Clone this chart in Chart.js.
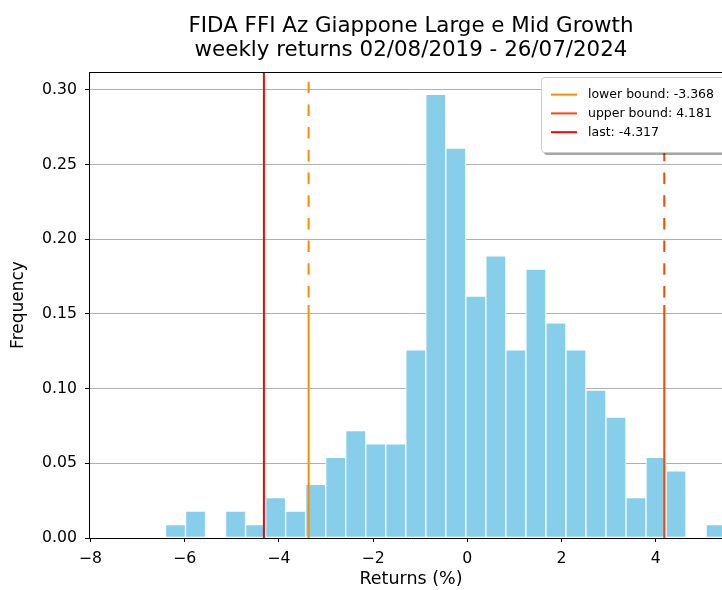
<!DOCTYPE html>
<html>
<head>
<meta charset="utf-8">
<script src="https://cdn.jsdelivr.net/npm/chart.js@4.4.4/dist/chart.umd.min.js"></script>
<style>
  html, body { margin: 0; padding: 0; background: #fff; }
  #wrap { width: 722px; height: 590px; overflow: hidden; position: relative; }
  #chart { display: block; }
</style>
</head>
<body>
<div id="wrap"><canvas id="chart" width="745" height="590"></canvas></div>
<script>
// histogram bins (centre of each bin, returns in %) and density
const binCenters = [-6.194, -5.769, -5.344, -4.919, -4.494, -4.069, -3.644, -3.219, -2.794, -2.369,
                    -1.944, -1.519, -1.094, -0.669, -0.244, 0.181, 0.606, 1.031, 1.456, 1.881,
                    2.306, 2.731, 3.156, 3.581, 4.006, 4.431, 4.856, 5.281]
const frequency = [0.009, 0.018, 0, 0.018, 0.009, 0.027, 0.018, 0.036, 0.054, 0.072,
                   0.063, 0.063, 0.126, 0.297, 0.261, 0.162, 0.189, 0.126, 0.180, 0.144,
                   0.126, 0.099, 0.081, 0.027, 0.054, 0.045, 0, 0.009]

const lineLabels = ["lower bound", "upper bound", "last"]
const lineValues = [-3.368, 4.181, -4.317]
const lineColors = ["#ff8c00", "#ff4500", "#ff0000"]

const xTicks = [-8, -6, -4, -2, 0, 2, 4]
const yTicks = [0, 0.05, 0.10, 0.15, 0.20, 0.25, 0.30]
const xRange = [-8.03, 5.64]
const yRange = [0, 0.312]

const titleLines = ["FIDA FFI Az Giappone Large e Mid Growth", "weekly returns 02/08/2019 - 26/07/2024"]

Chart.defaults.font.family = "'DejaVu Sans', sans-serif"
Chart.defaults.color = "#000"

const fmtX = v => (v < 0 ? "\u2212" + Math.abs(v) : String(v))

// bounds: dashed on the upper half, solid on the lower half
const boundSets = []
for (let i = 0; i < 2; i++) {
    boundSets.push({
        type: "line",
        data: [{ x: lineValues[i], y: yRange[1] }, { x: lineValues[i], y: yRange[1] / 2 }],
        borderColor: lineColors[i],
        borderWidth: 2,
        borderDash: [11.5, 11.2],
        borderDashOffset: 13,
        pointRadius: 0,
        fill: false,
        order: 1
    })
    boundSets.push({
        type: "line",
        data: [{ x: lineValues[i], y: yRange[1] / 2 }, { x: lineValues[i], y: 0 }],
        borderColor: lineColors[i],
        borderWidth: 2,
        pointRadius: 0,
        fill: false,
        order: 1
    })
}
boundSets.push({
    type: "line",
    data: [{ x: lineValues[2], y: yRange[1] }, { x: lineValues[2], y: 0 }],
    borderColor: lineColors[2],
    borderWidth: 2,
    pointRadius: 0,
    fill: false,
    order: 0
})

const framePlugin = {
    id: "frame",
    afterDraw(chart) {
        const { ctx, chartArea: a } = chart
        ctx.save()
        ctx.strokeStyle = "#000"
        ctx.lineWidth = 1
        ctx.beginPath()
        ctx.moveTo(a.left, Math.round(a.top) + 0.5)
        ctx.lineTo(a.right, Math.round(a.top) + 0.5)
        ctx.moveTo(Math.round(a.right) + 0.5, a.top)
        ctx.lineTo(Math.round(a.right) + 0.5, a.bottom)
        ctx.stroke()
        ctx.restore()
    }
}

const boxLegend = {
    id: "boxLegend",
    afterDraw(chart) {
        const { ctx, chartArea: a } = chart
        const right = a.right - 6, left = right - 186, top = a.top + 5, h = 75
        const r = 3
        const box = (x, y, w, hh) => {
            ctx.beginPath()
            ctx.roundRect(x, y, w, hh, r)
        }
        ctx.save()
        ctx.fillStyle = "rgba(0,0,0,0.35)"
        box(left + 3, top + 3, right - left, h)
        ctx.fill()
        ctx.fillStyle = "#fff"
        ctx.strokeStyle = "#cccccc"
        ctx.lineWidth = 1
        box(left + 0.5, top + 0.5, right - left, h)
        ctx.fill()
        ctx.stroke()
        ctx.font = "12.5px 'DejaVu Sans'"
        ctx.textBaseline = "middle"
        ctx.fillStyle = "#000"
        for (let i = 0; i < lineLabels.length; i++) {
            const y = top + 17.6 + i * 18.8
            ctx.strokeStyle = lineColors[i]
            ctx.lineWidth = 2
            ctx.beginPath()
            ctx.moveTo(left + 10, y)
            ctx.lineTo(left + 36, y)
            ctx.stroke()
            ctx.fillText(lineLabels[i] + ": " + lineValues[i].toFixed(3), left + 47, y + 0.5)
        }
        ctx.restore()
    }
}

new Chart(document.getElementById("chart"), {
    type: "bar",
    data: {
        datasets: [
            ...boundSets,
            {
                type: "bar",
                data: binCenters.map((c, i) => ({ x: c, y: frequency[i] })),
                backgroundColor: "#87ceeb",
                borderColor: "#ffffff",
                borderWidth: 1,
                borderSkipped: false,
                barPercentage: 1,
                categoryPercentage: 1,
                order: 10
            }
        ]
    },
    options: {
        responsive: false,
        animation: false,
        devicePixelRatio: 1,
        layout: { padding: { left: 0, right: 12, top: 0, bottom: 0 } },
        plugins: {
            legend: { display: false },
            tooltip: { enabled: false },
            title: {
                display: true,
                text: titleLines,
                fullSize: false,
                color: "#000",
                font: { size: 21.4, weight: "normal", lineHeight: 1.145 },
                padding: { top: 14, bottom: 9 }
            }
        },
        scales: {
            x: {
                type: "linear",
                min: xRange[0],
                max: xRange[1],
                offset: false,
                afterFit: s => { s.height = 52 },
                afterBuildTicks: s => { s.ticks = xTicks.map(v => ({ value: v })) },
                grid: { drawOnChartArea: false, drawTicks: true, tickLength: 4, tickColor: "#000", offset: false },
                border: { display: true, color: "#000", width: 1 },
                ticks: { font: { size: 15.7 }, color: "#000", padding: 8, maxRotation: 0, autoSkip: false, callback: v => fmtX(v) },
                title: { display: true, text: "Returns (%)", font: { size: 17.5 }, color: "#000", padding: { top: 0, bottom: 0 } }
            },
            y: {
                min: yRange[0],
                max: yRange[1],
                afterFit: s => { s.width = 89 },
                afterBuildTicks: s => { s.ticks = yTicks.map(v => ({ value: v })) },
                grid: { color: "#b0b0b0", lineWidth: 1, drawTicks: true, tickLength: 4, tickColor: "#000" },
                border: { display: true, color: "#000", width: 1 },
                ticks: { font: { size: 15.7 }, color: "#000", padding: 8, callback: v => v.toFixed(2) },
                title: { display: true, text: "Frequency", font: { size: 17 }, color: "#000", padding: { top: 8, bottom: 0 } }
            }
        }
    },
    plugins: [framePlugin, boxLegend]
})
</script>
</body>
</html>
